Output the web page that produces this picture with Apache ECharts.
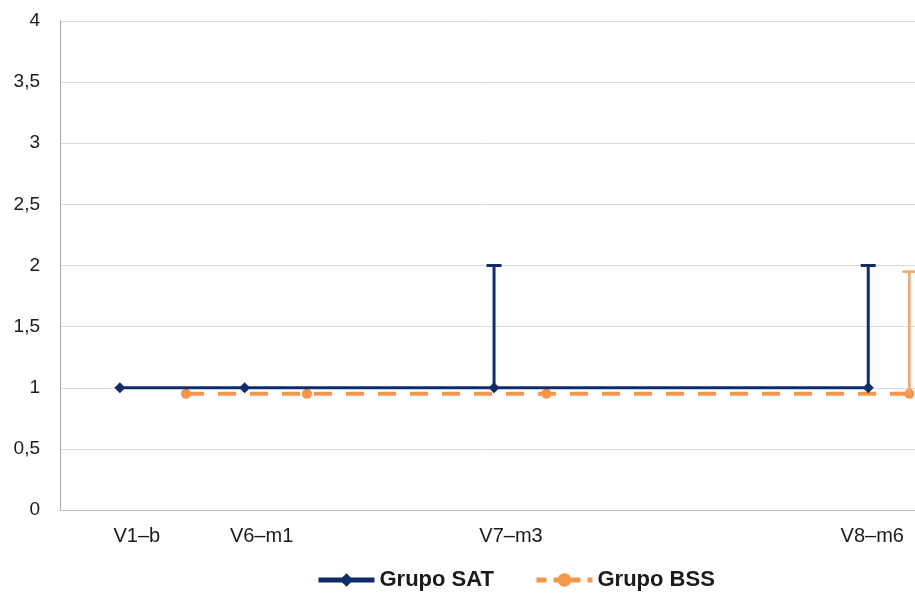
<!DOCTYPE html>
<html>
<head>
<meta charset="utf-8">
<script src="https://cdn.jsdelivr.net/npm/echarts@6/dist/echarts.min.js"></script>
<style>
html,body{margin:0;padding:0;background:#fff;}
#chart{width:915px;height:595px;}
</style>
</head>
<body>
<div id="chart"></div>
<script>
// Visit labels and their month positions
var visitLabels = ['V1–b', 'V6–m1', 'V7–m3', 'V8–m6'];
var satX = [0, 1, 3, 6];
var bssX = [0.53, 1.5, 3.42, 6.33];
// Series values
var satValues = [1, 1, 1, 1];
var bssValues = [0.95, 0.95, 0.95, 0.95];
// Upper error bar ends (null = no bar)
var satErrHigh = [null, null, 2, 2];
var bssErrHigh = [null, null, null, 1.95];
// Y tick values
var yMin = 0, yMax = 4, yStep = 0.5;

var NAVY = '#0f2c6c';
var ORANGE = '#f79646';
var ORANGE_BAR = '#f9a55c';
var FONT = 'Liberation Sans, Arial, sans-serif';

function pairs(xs, ys) { return xs.map(function (x, i) { return [x, ys[i]]; }); }
function errData(xs, ys, hi) {
  var out = [];
  xs.forEach(function (x, i) { if (hi[i] != null) out.push([x, ys[i], hi[i]]); });
  return out;
}
function errRender(color, width, cap) {
  return function (params, api) {
    var p0 = api.coord([api.value(0), api.value(1)]);
    var p1 = api.coord([api.value(0), api.value(2)]);
    return {
      type: 'group',
      children: [
        { type: 'line', shape: { x1: p0[0], y1: p0[1], x2: p1[0], y2: p1[1] }, style: { stroke: color, lineWidth: width } },
        { type: 'line', shape: { x1: p1[0] - cap / 2, y1: p1[1], x2: p1[0] + cap / 2, y2: p1[1] }, style: { stroke: color, lineWidth: width } }
      ]
    };
  };
}

var chart = echarts.init(document.getElementById('chart'));
chart.setOption({
  animation: false,
  backgroundColor: '#ffffff',
  grid: { left: 60, right: 0, top: 21, bottom: 85, containLabel: false },
  legend: {
    data: [
      { name: 'Grupo SAT', itemStyle: { color: NAVY }, lineStyle: { color: NAVY, width: 5, type: 'solid' } },
      { name: 'Grupo BSS', itemStyle: { color: ORANGE }, lineStyle: { color: ORANGE, width: 5, type: [10, 7] } }
    ],
    left: 316, top: 569, padding: 0,
    itemWidth: 56, itemHeight: 17, itemGap: 40,
    textStyle: { fontFamily: FONT, fontSize: 22, fontWeight: 'bold', color: '#1a1a1a' }
  },
  xAxis: {
    type: 'value',
    min: -0.48, max: 6.375,
    splitLine: { show: false },
    axisTick: { show: false },
    axisLine: { show: true, onZero: false, lineStyle: { color: '#bfbfbf', width: 1 } },
    axisLabel: {
      customValues: satX,
      margin: 16,
      color: '#1a1a1a',
      fontFamily: FONT,
      fontSize: 20,
      formatter: function (v) {
        var i = satX.indexOf(v);
        if (i < 0) return '';
        return (i === satX.length - 1 ? '{e|' : '{s|') + visitLabels[i] + '}';
      },
      rich: {
        s: { padding: [0, 0, 0, 34], fontSize: 20, color: '#1a1a1a', fontFamily: FONT },
        e: { padding: [0, 0, 0, 8], fontSize: 20, color: '#1a1a1a', fontFamily: FONT }
      }
    }
  },
  yAxis: {
    type: 'value',
    min: yMin, max: yMax, interval: yStep,
    axisLine: { show: true, onZero: false, lineStyle: { color: '#a6a6a6', width: 1 } },
    axisTick: { show: false },
    splitLine: { lineStyle: { color: '#d9d9d9', width: 1 } },
    axisLabel: {
      margin: 20,
      color: '#1a1a1a',
      fontFamily: FONT,
      fontSize: 19,
      formatter: function (v) { return String(v).replace('.', ','); }
    }
  },
  series: [
    {
      name: 'Grupo BSS', type: 'line',
      data: pairs(bssX, bssValues),
      symbol: 'circle', symbolSize: 10,
      lineStyle: { color: ORANGE, width: 4, type: [18, 14] },
      itemStyle: { color: ORANGE },
      z: 2
    },
    {
      name: 'Grupo SAT', type: 'line',
      data: pairs(satX, satValues),
      symbol: 'diamond', symbolSize: 11,
      lineStyle: { color: NAVY, width: 3 },
      itemStyle: { color: NAVY },
      z: 3
    },
    {
      name: 'errSAT', type: 'custom',
      data: errData(satX, satValues, satErrHigh),
      renderItem: errRender(NAVY, 3, 15),
      z: 4
    },
    {
      name: 'errBSS', type: 'custom',
      data: errData(bssX, bssValues, bssErrHigh),
      renderItem: errRender(ORANGE_BAR, 2.5, 14),
      z: 4
    }
  ]
});
</script>
</body>
</html>
